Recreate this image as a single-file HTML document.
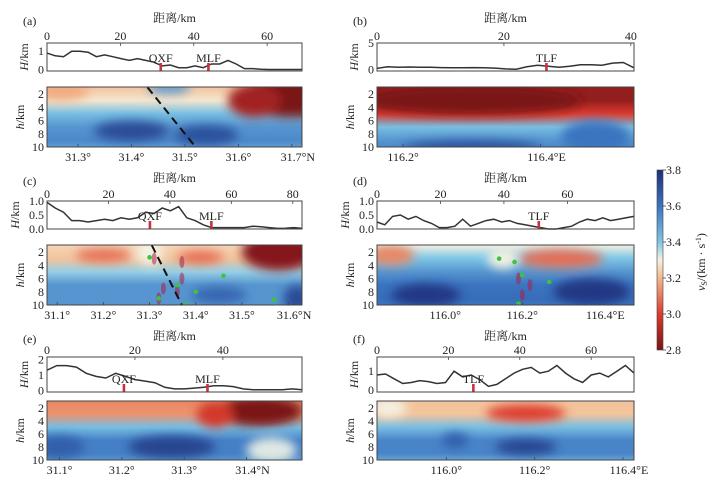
<!DOCTYPE html>
<html><head><meta charset="utf-8">
<style>
html,body{margin:0;padding:0;background:#fff;}
svg{display:block;font-family:"Liberation Serif","Noto Serif CJK SC",serif;}
.t{font-size:12px;fill:#222;}
</style></head>
<body>
<svg id="fig" width="720" height="486" viewBox="0 0 720 486" xmlns="http://www.w3.org/2000/svg">
<defs>
<filter id="blur" x="-50%" y="-50%" width="200%" height="200%"><feGaussianBlur stdDeviation="5"/></filter>
<linearGradient id="cbar" x1="0" y1="0" x2="0" y2="1">
<stop offset="0" stop-color="#1d2f7a"/><stop offset="0.2" stop-color="#3b74c0"/><stop offset="0.4" stop-color="#7fc6e6"/><stop offset="0.5" stop-color="#f4f1e2"/><stop offset="0.6" stop-color="#f3b98a"/><stop offset="0.8" stop-color="#dc3b2e"/><stop offset="1" stop-color="#7a1418"/>
</linearGradient>
</defs>
<g id="root"></g>
</svg>
<script>
// ---- data ----
const elevA=[0.9,0.75,0.7,1.0,1.0,0.95,0.7,0.8,0.7,0.6,0.5,0.6,0.5,0.4,0.2,0.25,0.1,0.1,0.2,0.1,0.3,0.3,0.5,0.3,0.05,0.05,0.02,0,0,0,0,0];
const elevB=[0.2,0.5,0.4,0.45,0.4,0.4,0.35,0.3,0.3,0.35,0.3,0.25,0.1,0.05,0.5,0.8,0.6,0.4,0.6,0.9,0.9,0.8,1.2,1.3,0.3];
const elevC=[0.95,0.75,0.6,0.3,0.3,0.25,0.3,0.35,0.3,0.4,0.35,0.4,0.6,0.55,0.75,0.65,0.8,0.4,0.3,0.15,0.05,0.05,0.05,0.05,0.05,0.1,0.08,0.05,0.02,0.03,0.05,0.02];
const elevD=[0.25,0.15,0.45,0.5,0.35,0.45,0.3,0.2,0.05,0.05,0.1,0.35,0.1,0.2,0.3,0.35,0.25,0.3,0.2,0.15,0.1,0.05,0.0,0.0,0.05,0.1,0.25,0.35,0.3,0.4,0.3,0.35,0.4,0.45];
const elevE=[1.3,1.6,1.6,1.5,1.1,0.9,0.8,1.1,0.9,0.7,0.6,0.5,0.2,0.1,0.1,0.15,0.2,0.3,0.3,0.25,0.1,0.05,0.05,0.05,0.05,0.1,0.05];
const elevF=[0.8,0.85,0.6,0.35,0.4,0.5,0.45,0.35,0.4,1.0,0.7,0.8,0.55,0.2,0.3,0.6,0.9,1.1,1.2,0.9,1.0,1.3,0.9,0.6,0.4,0.8,0.9,0.7,1.0,1.3,0.9];
const bgDepths=[1,3,5,7,9,10];
const bgA=[3.22,3.28,3.42,3.52,3.55,3.5], bgB=[2.85,2.85,3.0,3.42,3.52,3.55], bgC=[3.25,3.22,3.38,3.52,3.52,3.52];
const bgD=[3.3,3.4,3.52,3.6,3.62,3.6], bgE=[3.12,3.14,3.42,3.57,3.57,3.52], bgF=[3.22,3.22,3.42,3.56,3.56,3.48];
// blobs: [coord, depth, coord-radius, depth-radius, velocity]
const blobsA=[[31.70,2.5,0.11,3,2.8],[31.63,3,0.05,2.5,2.88],[31.40,7.6,0.07,1.5,3.72],[31.54,8.2,0.06,1.5,3.7],[31.27,1.5,0.05,1.5,3.18],[31.47,1,0.04,1,3.5]];
const blobsB=[[116.3,3,0.16,2.2,2.8],[116.48,8.5,0.05,2.5,3.6],[116.3,10,0.1,1,3.7]];
const blobsC=[[31.58,2,0.08,2.8,2.82],[31.2,2.5,0.06,1,3.08],[31.41,2.8,0.05,1,3.08],[31.3,2,0.03,2,3.3],[31.45,8.5,0.06,1.2,3.65],[31.62,9,0.03,2,3.72]];
const blobsD=[[115.86,2.5,0.06,1.5,3.12],[116.3,3,0.11,1.4,3.08],[115.95,8.5,0.09,1.7,3.77],[116.38,8,0.1,2,3.77],[116.15,3,0.04,1.5,3.3]];
const blobsE=[[31.42,2.5,0.07,2.3,2.8],[31.35,3,0.03,2,2.98],[31.28,8,0.07,1.7,3.74],[31.1,8,0.04,1.7,3.66],[31.44,8.5,0.04,2,3.32]];
const blobsF=[[116.18,2.8,0.09,1.3,3.0],[116.18,8,0.07,1.2,3.74],[116.02,7,0.03,1.2,3.66],[115.87,2,0.04,1.5,3.3]];
const faultsA=[["QXF",31],["MLF",44]], faultsB=[["TLF",26.7]], faultsC=[["QXF",33.5],["MLF",53.5]];
const faultsD=[["TLF",51]], faultsE=[["QXF",17.5],["MLF",36.5]], faultsF=[["TLF",27]];
const distTicksA=[0,20,40,60], distTicksB=[0,20,40], distTicksC=[0,20,40,60,80], distTicksD=[0,20,40,60], distTicksE=[0,20,40], distTicksF=[0,20,40,60];
const hTicksA=["0","1"], hTicksB=["0","5"], hTicksC=["0.0","0.5","1.0"], hTicksD=["0.0","0.5","1.0"], hTicksE=["0","1","2"], hTicksF=["0","1"];
const geoTicksA=["31.3","31.4","31.5","31.6","31.7"], geoTicksB=["116.2","116.4"], geoTicksC=["31.1","31.2","31.3","31.4","31.5","31.6"];
const geoTicksD=["116.0","116.2","116.4"], geoTicksE=["31.1","31.2","31.3","31.4"], geoTicksF=["116.0","116.2","116.4"];
const depthTicks=[2,4,6,8,10];
const cbTicks=[3.8,3.6,3.4,3.2,3.0,2.8];
const dashA=[[31.43,1],[31.52,10]], dashC=[[31.305,1],[31.37,10]];
const quakesC=[[31.31,3],[31.37,3.5],[31.33,7.5],[31.36,8],[31.37,6],[31.32,9]];
const quakesD=[[116.19,6],[116.2,8.5],[116.22,7]];
const greenC=[[31.3,2.8],[31.32,9],[31.38,9.9],[31.4,8],[31.46,5.6],[31.57,9.2],[31.36,7]];
const greenD=[[116.14,3],[116.18,3.5],[116.2,5.5],[116.27,6.5],[116.19,9.8]];

const panels=[
 {id:"a",x0:47,x1:302,tb:[43,71],hb:[87,147],row:0,dmax:69.5,g:[31.242,31.719],h:[-0.08,1.45],hT:hTicksA,elev:elevA,bg:bgA,bl:blobsA,f:faultsA,dt:distTicksA,gt:geoTicksA,unit:"N",dash:dashA},
 {id:"b",x0:377,x1:634,tb:[43,71],hb:[87,147],row:0,dmax:40.5,g:[116.162,116.536],h:[-0.3,5],hT:hTicksB,elev:elevB,bg:bgB,bl:blobsB,f:faultsB,dt:distTicksB,gt:geoTicksB,unit:"E"},
 {id:"c",x0:47,x1:302,tb:[201,229],hb:[245,305],row:1,dmax:83,g:[31.078,31.63],h:[0,1.0],hT:hTicksC,elev:elevC,bg:bgC,bl:blobsC,f:faultsC,dt:distTicksC,gt:geoTicksC,unit:"N",dash:dashC,q:quakesC,gr:greenC},
 {id:"d",x0:377,x1:634,tb:[201,229],hb:[245,305],row:1,dmax:81,g:[115.823,116.49],h:[0,1.0],hT:hTicksD,elev:elevD,bg:bgD,bl:blobsD,f:faultsD,dt:distTicksD,gt:geoTicksD,unit:"E",q:quakesD,gr:greenD},
 {id:"e",x0:47,x1:302,tb:[357,392],hb:[401,460],row:2,dmax:58,g:[31.08,31.489],h:[-0.1,2.15],hT:hTicksE,elev:elevE,bg:bgE,bl:blobsE,f:faultsE,dt:distTicksE,gt:geoTicksE,unit:"N"},
 {id:"f",x0:377,x1:634,tb:[357,392],hb:[401,460],row:2,dmax:72,g:[115.843,116.425],h:[-0.1,1.75],hT:hTicksF,elev:elevF,bg:bgF,bl:blobsF,f:faultsF,dt:distTicksF,gt:geoTicksF,unit:"E"}
];
const titleY=[17,177,335], tickY=[36,194,350];

const NS="http://www.w3.org/2000/svg";
const root=document.getElementById("root");
function mk(tag,attrs,parent,text){const e=document.createElementNS(NS,tag);for(const k in attrs)e.setAttribute(k,attrs[k]);if(text!==undefined)e.textContent=text;(parent||root).appendChild(e);return e;}
const cStops=[[2.8,[122,20,24]],[3.0,[220,59,46]],[3.2,[243,185,138]],[3.3,[244,241,226]],[3.4,[127,198,230]],[3.6,[59,116,192]],[3.8,[29,47,122]]];
function vcol(v){v=Math.max(2.8,Math.min(3.8,v));for(let i=0;i<cStops.length-1;i++){const a=cStops[i],b=cStops[i+1];if(v<=b[0]){const t=(v-a[0])/(b[0]-a[0]);const c=a[1].map((x,j)=>Math.round(x+(b[1][j]-x)*t));return "rgb("+c.join(",")+")";}}return "rgb(29,47,122)";}

panels.forEach(p=>{
 const g=mk("g",{});
 
 
 const xd=d=>p.x0+(p.x1-p.x0)*d/p.dmax;
 const xg=c=>p.x0+(p.x1-p.x0)*(c-p.g[0])/(p.g[1]-p.g[0]);
 const yh=h=>p.tb[1]-(p.tb[1]-p.tb[0])*(h-p.h[0])/(p.h[1]-p.h[0]);
 const yz=z=>p.hb[0]+(p.hb[1]-p.hb[0])*(z-0.94)/(10-0.94);
 const lbl=mk("text",{x:p.x0-24,y:titleY[p.row]+8,class:"t","font-size":"13"},g,"("+p.id+")");
 
 
 const tt=mk("text",{x:(p.x0+p.x1)/2,y:titleY[p.row]+5,class:"t","text-anchor":"middle","font-size":"13"},g,"距离/km");
 
 
 p.dt.forEach(d=>{
  const t=mk("text",{x:xd(d),y:tickY[p.row]+4,class:"t","text-anchor":"middle"},g,String(d));
  
  
  mk("line",{x1:xd(d),x2:xd(d),y1:p.tb[0],y2:p.tb[0]+3,stroke:"#444","stroke-width":"0.8"},g);
 });
 const pts=p.elev.map((h,i)=>xd(i*p.dmax/(p.elev.length-1)).toFixed(1)+","+yh(h).toFixed(1)).join(" ");
 const el=mk("polyline",{points:pts,fill:"none",stroke:"#333","stroke-width":"1.5"},g);
 
 
 p.f.forEach(f=>{
  const fx=xd(f[1]);
  const m=mk("rect",{x:fx-1.3,y:p.tb[1]-8,width:2.6,height:8,fill:"#c8323c"},g);
  
  
  const t=mk("text",{x:fx,y:p.tb[1]-9,class:"t","text-anchor":"middle","font-size":"13"},g,f[0]);
  
  
 });
 const tbx=mk("rect",{x:p.x0,y:p.tb[0],width:p.x1-p.x0,height:p.tb[1]-p.tb[0],fill:"none",stroke:"#444","stroke-width":"1"},g);
 
 
 p.hT.forEach((s,i)=>{
  const hv=parseFloat(s);
  const t=mk("text",{x:p.x0-3,y:yh(hv)+4,class:"t","text-anchor":"end"},g,s);
  
  
 });
 const hy=(p.tb[0]+p.tb[1])/2;
 const ha=mk("text",{x:0,y:0,class:"t","text-anchor":"middle","font-size":"13",transform:"translate("+(p.x0-(p.hT[0].length>1?28:19))+","+hy+") rotate(-90)"},g);
 ha.innerHTML='<tspan font-style="italic">H</tspan>/km';
 
 
 const cid="clip"+p.id;
 const cp=mk("clipPath",{id:cid},g);
 mk("rect",{x:p.x0,y:p.hb[0],width:p.x1-p.x0,height:p.hb[1]-p.hb[0]},cp);
 const gid="bgg"+p.id;
 const lg=mk("linearGradient",{id:gid,x1:0,y1:0,x2:0,y2:1},g);
 p.bg.forEach((v,i)=>mk("stop",{offset:((bgDepths[i]-1)/9).toFixed(3),"stop-color":vcol(v)},lg));
 const hm=mk("g",{"clip-path":"url(#"+cid+")"},g);
 
 
 mk("rect",{x:p.x0,y:p.hb[0],width:p.x1-p.x0,height:p.hb[1]-p.hb[0],fill:"url(#"+gid+")"},hm);
 const bg=mk("g",{filter:"url(#blur)"},hm);
 p.bl.forEach(b=>{
  const cx=xg(b[0]),cy=yz(b[1]);
  const rx=Math.abs(xg(b[0]+b[2])-cx), ry=Math.abs(yz(b[1]+b[3])-cy);
  const e=mk("ellipse",{cx:cx,cy:cy,rx:rx,ry:ry,fill:vcol(b[4])},bg);
  
  
 });
 if(p.q){p.q.forEach(q=>{const e=mk("ellipse",{cx:xg(q[0]),cy:yz(q[1]),rx:2.5,ry:6,fill:"#a8204a","fill-opacity":"0.55"},hm);});}
 if(p.gr){p.gr.forEach(q=>{const e=mk("circle",{cx:xg(q[0]),cy:yz(q[1]),r:2.3,fill:"#3cc43c"},hm);});}
 if(p.dash){const l=mk("line",{x1:xg(p.dash[0][0]),y1:yz(p.dash[0][1]),x2:xg(p.dash[1][0]),y2:yz(p.dash[1][1]),stroke:"#111","stroke-width":"2","stroke-dasharray":"8,5"},hm);}
 const hbx=mk("rect",{x:p.x0,y:p.hb[0],width:p.x1-p.x0,height:p.hb[1]-p.hb[0],fill:"none",stroke:"#444","stroke-width":"1"},g);
 
 
 depthTicks.forEach(z=>{
  const t=mk("text",{x:p.x0-3,y:yz(z)+4,class:"t","text-anchor":"end","font-size":"13"},g,String(z));
  
  
 });
 const da=mk("text",{x:0,y:0,class:"t","text-anchor":"middle","font-size":"13",transform:"translate("+(p.x0-23)+","+((p.hb[0]+p.hb[1])/2)+") rotate(-90)"},g);
 da.innerHTML='<tspan font-style="italic">h</tspan>/km';
 
 
 p.gt.forEach((s,i)=>{
  const gx=xg(parseFloat(s));
  mk("line",{x1:gx,x2:gx,y1:p.hb[1],y2:p.hb[1]-3,stroke:"#444","stroke-width":"0.8"},g);
  const last=i===p.gt.length-1;
  const t=mk("text",{x:gx,y:p.hb[1]+14,class:"t","text-anchor":"middle","font-size":"13"},g,s+"°"+(last?p.unit:""));
  if(last) t.setAttribute("x",gx+6);
  
  
 });
});
const cb=mk("rect",{x:657,y:170,width:6,height:180,fill:"url(#cbar)",stroke:"#444","stroke-width":"0.6"});


cbTicks.forEach(v=>{
 const y=170+180*(3.8-v)/1.0;
 mk("line",{x1:663,x2:666,y1:y,y2:y,stroke:"#444","stroke-width":"0.8"});
 const t=mk("text",{x:666,y:y+4,class:"t","font-size":"13"},root,v.toFixed(1));
 
 
});
const cbt=mk("text",{x:0,y:0,class:"t","text-anchor":"middle","font-size":"13",transform:"translate(705,262) rotate(-90)"});
cbt.innerHTML='<tspan font-style="italic">v</tspan><tspan font-size="8" dy="2">S</tspan><tspan dy="-2">/(km · s</tspan><tspan font-size="8" dy="-4">-1</tspan><tspan dy="4">)</tspan>';


</script>
</body></html>
